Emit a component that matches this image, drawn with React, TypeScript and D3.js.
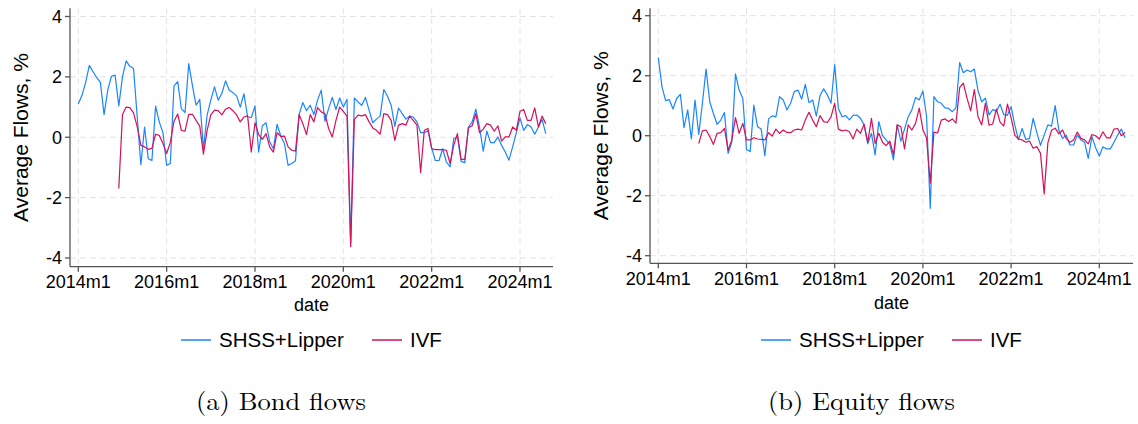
import React from "react";
import * as d3 from "d3";

// Month index 0 = 2014m1
const xTickMonths = [0, 24, 48, 72, 96, 120];
const xTickLabels = ["2014m1", "2016m1", "2018m1", "2020m1", "2022m1", "2024m1"];
const yTicks = [-4, -2, 0, 2, 4];
const seriesNames = ["SHSS+Lipper", "IVF"];
const ivfStartMonth = 11; // 2014m12

// Bond flows, SHSS+Lipper, 2014m1 - 2024m8
const bondShss = [
  1.10, 1.39, 1.82, 2.38, 2.17, 1.98, 1.82, 0.75, 1.56, 2.02, 2.06, 1.04,
  2.0, 2.53, 2.35, 2.28, 0.69, -0.91, 0.34, -0.71, -0.77, 1.03, 0.51, 0.15,
  -0.93, -0.87, 1.70, 1.84, 0.95, 0.82, 2.44, 1.72, 1.06, 1.26, -0.38, 0.73,
  1.23, 1.67, 1.23, 1.45, 1.87, 1.56, 1.48, 1.37, 1.0, 1.44, 0.68, 0.65,
  1.04, -0.49, 0.38, 0.48, -0.15, -0.38, 0.43, 0.04, -0.21, -0.93, -0.87, -0.78,
  0.76, 1.15, 0.88, 1.06, 0.75, 1.23, 1.56, 0.53, 0.95, 1.32, 0.92, 1.30,
  1.0, 1.26, -3.5, 1.30, 1.17, 1.06, 1.32, 0.9, 0.48, 0.6, 0.70, 1.58,
  1.36, 1.06, 0.36, 0.97, 0.78, 0.6, 0.70, 0.67, 0.51, 0.15, 0.15, 0.22,
  -0.35, -0.77, -0.77, -0.38, -0.82, -0.98, -0.04, 0.01, -0.80, -0.84, 0.34, 0.51,
  0.93, 0.34, -0.46, 0.2, -0.18, -0.18, 0.01, -0.27, -0.49, -0.76, -0.32, 0.15,
  0.64, 0.23, 0.42, 0.34, 0.1, 0.34, 0.59, 0.12,
];

// Bond flows, IVF, 2014m12 - 2024m8
const bondIvf = [
  -1.70,
  0.75, 1.0, 0.98, 0.81, 0.35, -0.27, -0.32, -0.40, -0.37, 0.10, 0.06, -0.21,
  -0.54, -0.17, 0.53, 0.77, 0.23, 0.20, 0.76, 0.76, 0.56, 0.37, -0.56, 0.23,
  0.74, 0.90, 0.88, 0.74, 0.93, 0.99, 0.88, 0.74, 0.51, 0.67, 0.71, -0.49,
  0.48, 0.09, -0.07, 0.12, -0.32, -0.49, 0.15, 0.03, 0.04, -0.32, -0.43, -0.46,
  0.75, 0.45, 0.09, 0.75, 0.51, 0.98, 0.84, 0.78, 0.29, 0.01, 0.56, 1.0,
  0.86, 0.70, -3.62, 0.59, 0.73, 0.71, 0.75, 0.51, 0.31, 0.23, 0.10, 0.78,
  0.75, 0.56, -0.1, 0.4, 0.45, 0.40, 0.70, 0.56, 0.40, -1.17, 0.23, 0.29,
  -0.38, -0.41, -0.41, -0.41, -0.43, -0.87, -0.27, 0.12, -0.73, -0.73, 0.32, 0.38,
  0.78, 0.15, 0.27, 0.45, 0.40, 0.2, 0.38, -0.13, 0.01, 0.01, 0.34, 0.23,
  0.86, 0.92, 0.56, 0.56, 0.97, 0.34, 0.70, 0.45,
];

// Equity flows, SHSS+Lipper, 2014m1 - 2024m8
const equityShss = [
  2.6, 1.63, 1.17, 1.2, 0.89, 1.24, 1.38, 0.27, 0.86, -0.11, 1.19, 0.04,
  1.08, 2.22, 1.13, 0.74, 0.38, 0.52, 0.77, -0.59, -0.22, 2.06, 1.52, 1.24,
  -0.46, -0.53, 1.02, 0.30, 0.22, -0.67, 0.56, 0.66, 0.63, 1.30, 1.19, 0.86,
  1.08, 1.47, 1.52, 1.22, 1.71, 1.1, 1.19, 0.65, 1.33, 1.56, 1.36, 1.08,
  2.37, 0.91, 0.63, 0.67, 0.53, 0.68, 0.69, 0.58, 0.36, -0.27, 0.08, -0.64,
  0.47, 0.0, -0.14, -0.29, -0.81, 0.36, -0.18, 0.22, 0.63, 0.86, 1.27, 1.19,
  1.49, 0.64, -2.42, 1.3, 1.13, 1.08, 0.93, 0.91, 0.8, 0.93, 2.44, 2.1,
  2.19, 2.13, 2.22, 1.5, 1.13, 1.25, 0.69, 0.87, 0.82, 1.05, 0.70, 0.68,
  0.97, 0.35, -0.13, 0.24, -0.13, -0.09, 0.58, 0.1, -0.32, 0.02, 0.36, 0.32,
  1.0, 0.18, -0.09, 0.02, -0.31, -0.31, 0.02, -0.14, -0.22, -0.76, -0.03, -0.4,
  -0.68, -0.37, -0.44, -0.44, -0.22, 0.02, 0.22, -0.07,
];

// Equity flows, IVF, 2014m12 - 2024m8
const equityIvf = [
  -0.26,
  0.16, 0.19, -0.03, -0.29, 0.08, 0.1, 0.24, -0.48, -0.14, 0.6, 0.08, 0.41,
  -0.14, -0.14, -0.07, -0.11, -0.12, -0.14, 0.1, -0.01, 0.22, 0.08, 0.19, 0.11,
  0.1, 0.19, 0.22, 0.19, 0.52, 0.78, 0.52, 0.3, 0.67, 0.47, 0.44, 0.63,
  1.08, 0.22, 0.16, 0.19, 0.13, -0.11, 0.22, 0.08, 0.38, -0.22, 0.58, -0.26,
  0.08, -0.22, -0.33, -0.18, -0.64, 0.36, 0.3, -0.44, 0.36, 0.19, 0.41, 0.92,
  0.2, -0.08, -1.58, 0.12, 0.09, 0.52, 0.56, 0.47, 0.56, 0.42, 1.6, 1.75,
  1.25, 0.83, 1.54, 0.63, 0.36, 1.08, 0.35, 0.39, 0.89, 0.45, 0.32, 1.05,
  0.6, 0.02, -0.11, -0.14, -0.22, -0.18, -0.42, -0.36, -0.59, -1.94, -0.24, 0.18,
  0.25, 0.06, 0.19, -0.09, -0.22, -0.14, 0.12, -0.09, -0.14, -0.27, 0.04, 0.0,
  -0.11, 0.13, -0.07, -0.07, 0.22, 0.24, 0.0, 0.11,
];

const BLUE = "#1A85FF";
const RED = "#D41159";
const AXIS = "#555555";
const GRID = "#e3e3e3";
const SANS = "'Liberation Sans', Arial, Helvetica, sans-serif";
const SERIF = "'Latin Modern Roman', 'CMU Serif', 'Liberation Serif', 'DejaVu Serif', serif";

type PanelProps = {
  shss: number[];
  ivf: number[];
  axisX: number;
  xEnd: number;
  yTop: number;
  yBottom: number;
  x0: number;
  x120: number;
  yPos4: number;
  yNeg4: number;
  titleX: number;
  dateY: number;
  legendY: number;
  caption: string;
  captionX: number;
  captionY: number;
  captionLen: number;
};

function Panel(p: PanelProps) {
  const x = d3.scaleLinear().domain([0, 120]).range([p.x0, p.x120]);
  const y = d3.scaleLinear().domain([-4, 4]).range([p.yNeg4, p.yPos4]);
  const line = d3
    .line<[number, number]>()
    .x((d) => x(d[0]))
    .y((d) => y(d[1]));
  const shssPts: [number, number][] = p.shss.map((v, i) => [i, v]);
  const ivfPts: [number, number][] = p.ivf.map((v, i) => [i + ivfStartMonth, v]);
  const cx = (p.axisX + p.xEnd) / 2;
  const cy = (p.yTop + p.yBottom) / 2;

  // legend layout
  const fs = 20.5;
  const lineLen = 30;
  const gap1 = 8;
  const gap2 = 27;
  const w1 = 126;
  const w2 = 32;
  const total = lineLen + gap1 + w1 + gap2 + lineLen + gap1 + w2;
  const lx = cx - total / 2;

  return (
    <g>
      {/* gridlines */}
      {yTicks.map((t) => (
        <line
          key={"gy" + t}
          x1={p.axisX}
          x2={p.xEnd}
          y1={y(t)}
          y2={y(t)}
          stroke={GRID}
          strokeWidth={1}
          strokeDasharray="6,4"
        />
      ))}
      {xTickMonths.map((t) => (
        <line
          key={"gx" + t}
          x1={x(t)}
          x2={x(t)}
          y1={p.yTop}
          y2={p.yBottom}
          stroke={GRID}
          strokeWidth={1}
          strokeDasharray="6,4"
        />
      ))}
      {/* series */}
      <path d={line(shssPts) || ""} fill="none" stroke={BLUE} strokeWidth={1.2} strokeLinejoin="round" />
      <path d={line(ivfPts) || ""} fill="none" stroke={RED} strokeWidth={1.2} strokeLinejoin="round" />
      {/* axes */}
      <line x1={p.axisX} x2={p.axisX} y1={p.yTop} y2={p.yBottom} stroke={AXIS} strokeWidth={1.3} />
      <line x1={p.axisX} x2={p.xEnd} y1={p.yBottom} y2={p.yBottom} stroke={AXIS} strokeWidth={1.3} />
      {yTicks.map((t) => (
        <g key={"ty" + t}>
          <line x1={p.axisX - 5} x2={p.axisX} y1={y(t)} y2={y(t)} stroke={AXIS} strokeWidth={1.3} />
          <text
            x={p.axisX - 8}
            y={y(t)}
            dy="0.35em"
            textAnchor="end"
            fontFamily={SANS}
            fontSize={18}
            fill="#000"
          >
            {t}
          </text>
        </g>
      ))}
      {xTickMonths.map((t, i) => (
        <g key={"tx" + t}>
          <line x1={x(t)} x2={x(t)} y1={p.yBottom} y2={p.yBottom + 5} stroke={AXIS} strokeWidth={1.3} />
          <text
            x={x(t)}
            y={p.yBottom + 21.5}
            textAnchor="middle"
            fontFamily={SANS}
            fontSize={18}
            fill="#000"
          >
            {xTickLabels[i]}
          </text>
        </g>
      ))}
      {/* axis titles */}
      <text
        transform={`translate(${p.titleX},${cy}) rotate(-90)`}
        textAnchor="middle"
        fontFamily={SANS}
        fontSize={21}
        fill="#000"
      >
        Average Flows, %
      </text>
      <text x={cx} y={p.dateY} dy="0.35em" textAnchor="middle" fontFamily={SANS} fontSize={18} fill="#000">
        date
      </text>
      {/* legend */}
      <line x1={lx} x2={lx + lineLen} y1={p.legendY} y2={p.legendY} stroke={BLUE} strokeWidth={1.5} />
      <text x={lx + lineLen + gap1} y={p.legendY} dy="0.35em" fontFamily={SANS} fontSize={fs} fill="#000">
        {seriesNames[0]}
      </text>
      <line
        x1={lx + lineLen + gap1 + w1 + gap2}
        x2={lx + lineLen + gap1 + w1 + gap2 + lineLen}
        y1={p.legendY}
        y2={p.legendY}
        stroke={RED}
        strokeWidth={1.5}
      />
      <text
        x={lx + lineLen + gap1 + w1 + gap2 + lineLen + gap1}
        y={p.legendY}
        dy="0.35em"
        fontFamily={SANS}
        fontSize={fs}
        fill="#000"
      >
        {seriesNames[1]}
      </text>
      {/* caption */}
      <text
        x={p.captionX}
        y={p.captionY}
        textAnchor="middle"
        fontFamily={SERIF}
        fontSize={25}
        textLength={p.captionLen}
        lengthAdjust="spacingAndGlyphs"
        fill="#000"
      >
        {p.caption}
      </text>
    </g>
  );
}

export default function App() {
  return (
    <svg
      width={1138}
      height={424}
      style={{ display: "block", position: "absolute", left: 0, top: 0, background: "#fff" }}
    >
      <rect x={0} y={0} width={1138} height={424} fill="#fff" />
      <Panel
        shss={bondShss}
        ivf={bondIvf}
        axisX={70}
        xEnd={553}
        yTop={8.3}
        yBottom={266.7}
        x0={78.3}
        x120={520}
        yPos4={16.5}
        yNeg4={258}
        titleX={28}
        dateY={305}
        legendY={340}
        caption="(a) Bond flows"
        captionX={281}
        captionY={410}
        captionLen={170}
      />
      <Panel
        shss={equityShss}
        ivf={equityIvf}
        axisX={650}
        xEnd={1133}
        yTop={8.3}
        yBottom={263.3}
        x0={658.3}
        x120={1099.3}
        yPos4={15.7}
        yNeg4={255.7}
        titleX={608}
        dateY={303}
        legendY={340}
        caption="(b) Equity flows"
        captionX={861.5}
        captionY={410}
        captionLen={187}
      />
    </svg>
  );
}
